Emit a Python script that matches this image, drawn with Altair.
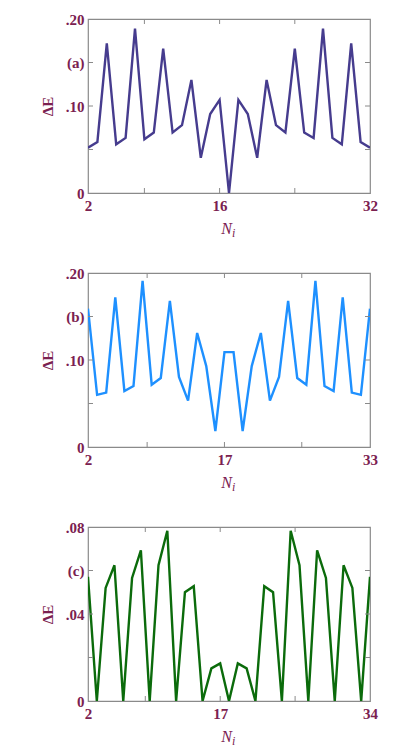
import altair as alt
import pandas as pd

# ---- data ----
N_a = list(range(2, 33))
dE_a = [0.052, 0.0587, 0.172, 0.056, 0.0633, 0.189, 0.0618, 0.0695, 0.166, 0.0695,
        0.078, 0.130, 0.0405, 0.0907, 0.107, 0.0, 0.107, 0.0907, 0.0405, 0.130,
        0.078, 0.0695, 0.166, 0.0695, 0.0633, 0.189, 0.0633, 0.056, 0.172, 0.0587, 0.052]

N_b = list(range(2, 34))
dE_b = [0.159, 0.060, 0.0625, 0.172, 0.0644, 0.070, 0.191, 0.0716, 0.0793, 0.168,
        0.0805, 0.0533, 0.131, 0.093, 0.0184, 0.109, 0.109, 0.0184, 0.093, 0.131,
        0.0533, 0.0805, 0.168, 0.0793, 0.0716, 0.191, 0.070, 0.0644, 0.172, 0.0625,
        0.060, 0.159]

N_c = list(range(2, 35))
dE_c = [0.0571, 0.0, 0.052, 0.0624, 0.0, 0.0566, 0.0693, 0.0, 0.0624, 0.0783,
        0.0, 0.050, 0.0528, 0.0, 0.015, 0.0173, 0.0, 0.0173, 0.015, 0.0,
        0.0528, 0.050, 0.0, 0.0783, 0.0624, 0.0, 0.0693, 0.0566, 0.0, 0.0624,
        0.052, 0.0, 0.0571]

xlab_a = [2, 16, 32]
xtick_a = [8, 16, 24]
xlab_b = [2, 17, 33]
xtick_b = [8.5, 17, 25.5]
xlab_c = [2, 17, 34]
xtick_c = [8.5, 17, 25.5]

yval_a = [0, 0.05, 0.10, 0.15, 0.20]
ylab_a = ["0", "", ".10", "(a)", ".20"]
yval_b = [0, 0.05, 0.10, 0.15, 0.20]
ylab_b = ["0", "", ".10", "(b)", ".20"]
yval_c = [0, 0.02, 0.04, 0.06, 0.08]
ylab_c = ["0", "", ".04", "(c)", ".08"]

LABEL_COLOR = "#7B2150"
FRAME = "#8a8a8a"
FONT = "Liberation Serif"
W, H = 282, 174


def label_expr(vals, labs):
    expr = "''"
    for v, l in reversed(list(zip(vals, labs))):
        expr = f"abs(datum.value - {v}) < 1e-9 ? '{l}' : ({expr})"
    return expr


def panel(N, dE, color, xlabels, xticks, yvals, ylabels):
    df = pd.DataFrame({"N": N, "dE": dE})
    xs = alt.Scale(domain=[min(N), max(N)], nice=False, zero=False)
    ys = alt.Scale(domain=[yvals[0], yvals[-1]], nice=False)
    xaxis = alt.Axis(
        values=xlabels, title=None, ticks=False, domain=False, grid=False,
        format="d", labelFont=FONT, labelFontSize=15, labelFontWeight="bold",
        labelColor=LABEL_COLOR, labelPadding=5, labelFlush=False)
    yaxis = alt.Axis(
        values=yvals, labelExpr=label_expr(yvals, ylabels), title="ΔE",
        ticks=False, domain=False, grid=False,
        labelFont=FONT, labelFontSize=15, labelFontWeight="bold",
        labelColor=LABEL_COLOR, labelPadding=4,
        titleFont=FONT, titleFontSize=15, titleFontWeight="bold",
        titleColor=LABEL_COLOR, titlePadding=10)
    line = alt.Chart(df).mark_line(color=color, strokeWidth=2.4, clip=True).encode(
        x=alt.X("N:Q", scale=xs, axis=xaxis),
        y=alt.Y("dE:Q", scale=ys, axis=yaxis),
    )
    xt = pd.DataFrame({"N": xticks})
    yt = pd.DataFrame({"dE": yvals[1:-1]})
    xb = alt.Chart(xt).mark_rule(color=FRAME).encode(
        x=alt.X("N:Q", scale=xs, axis=xaxis), y=alt.value(H), y2=alt.value(H - 5))
    xtop = alt.Chart(xt).mark_rule(color=FRAME).encode(
        x=alt.X("N:Q", scale=xs, axis=xaxis), y=alt.value(0), y2=alt.value(5))
    yl = alt.Chart(yt).mark_rule(color=FRAME).encode(
        y=alt.Y("dE:Q", scale=ys, axis=yaxis), x=alt.value(0), x2=alt.value(5))
    yr = alt.Chart(yt).mark_rule(color=FRAME).encode(
        y=alt.Y("dE:Q", scale=ys, axis=yaxis), x=alt.value(W), x2=alt.value(W - 5))
    one = pd.DataFrame({"a": [0]})
    tN = alt.Chart(one).mark_text(font=FONT, fontSize=16, fontStyle="italic",
                                  color=LABEL_COLOR, align="right", baseline="alphabetic").encode(
        x=alt.value(W / 2 + 3), y=alt.value(H + 41), text=alt.value("N"))
    ti = alt.Chart(one).mark_text(font=FONT, fontSize=12, fontStyle="italic",
                                  color=LABEL_COLOR, align="left", baseline="alphabetic").encode(
        x=alt.value(W / 2 + 3), y=alt.value(H + 44), text=alt.value("i"))
    return alt.layer(line, xb, xtop, yl, yr, tN, ti).properties(width=W, height=H)


chart = alt.vconcat(
    panel(N_a, dE_a, "#463C8E", xlab_a, xtick_a, yval_a, ylab_a),
    panel(N_b, dE_b, "#1E90FF", xlab_b, xtick_b, yval_b, ylab_b),
    panel(N_c, dE_c, "#0B6B0B", xlab_c, xtick_c, yval_c, ylab_c),
    spacing=25,
).properties(
    padding={"left": 31, "top": 3, "right": 5, "bottom": 3}
).configure_view(stroke=FRAME, strokeWidth=1.2)

chart.save("out.html", embed_options={"renderer": "svg", "actions": False})
